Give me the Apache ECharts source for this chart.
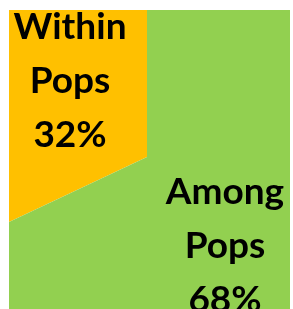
<!DOCTYPE html>
<html>
<head>
<meta charset="utf-8">
<script src="https://cdn.jsdelivr.net/npm/echarts@6/dist/echarts.min.js"></script>
<style>
    html, body { margin: 0; padding: 0; background: #fff; }
    #wrap { position: relative; width: 293px; height: 309px; overflow: hidden; }
    #pieChart { position: absolute; left: 9px; top: 10px; width: 281px; height: 299px; }
</style>
</head>
<body>
<div id="wrap"><div id="pieChart"></div></div>
<script>
// 数据
const categories = ['Within Pops', 'Among Pops'];
const shares = [32, 68];
const colors = ['#FFC000', '#92D050'];

function initChart() {
    const pieChart = echarts.init(document.getElementById('pieChart'));
    pieChart.setOption({
        animation: false,
        series: [{
            type: 'pie',
            silent: true,
            center: [138, 147],
            radius: 320,
            startAngle: 90,
            clockwise: false,
            itemStyle: { borderWidth: 0 },
            data: categories.map((name, i) => ({
                name: name,
                value: shares[i],
                itemStyle: { color: colors[i] }
            })),
            label: {
                show: true,
                position: 'inside',
                formatter: p => p.name.replace(' ', '\n') + '\n' + Math.round(p.percent) + '%',
                fontFamily: 'Lato',
                fontWeight: 'bold',
                fontSize: 37,
                lineHeight: 54,
                color: '#000',
                align: 'center',
                verticalAlign: 'middle'
            },
            labelLine: { show: false },
            labelLayout: function (p) {
                return p.dataIndex === 0 ? { x: 61, y: 71 } : { x: 216, y: 236 };
            }
        }]
    });
}

document.addEventListener('DOMContentLoaded', initChart);
</script>
</body>
</html>
